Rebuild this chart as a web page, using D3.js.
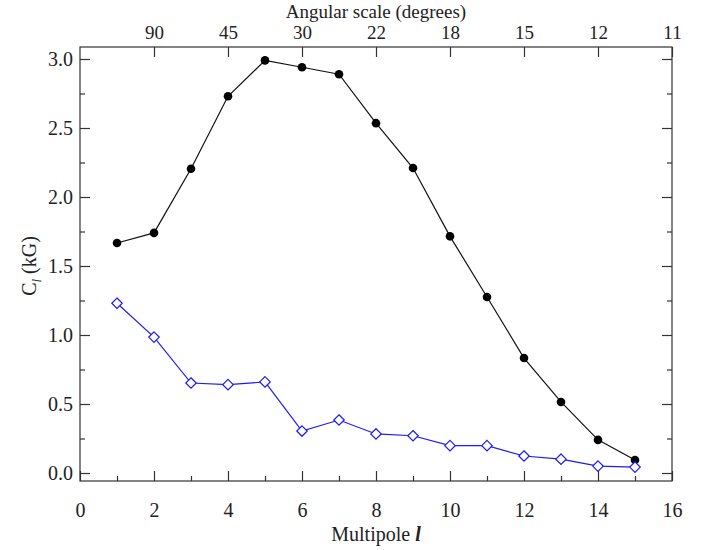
<!DOCTYPE html>
<html><head><meta charset="utf-8">
<script src="https://cdn.jsdelivr.net/npm/d3@7"></script>
<style>body{margin:0;background:#fff}svg{display:block}text{font-family:"Liberation Serif","DejaVu Serif",serif;fill:#222}</style>
</head><body>
<svg id="c" width="706" height="550"></svg>
<script>
const multipoles = [1,2,3,4,5,6,7,8,9,10,11,12,13,14,15];
const totalPower = [1.667,1.74,2.205,2.73,2.99,2.94,2.89,2.535,2.21,1.715,1.275,0.833,0.515,0.24,0.094];
const residualPower = [1.23,0.985,0.652,0.64,0.66,0.304,0.384,0.283,0.27,0.198,0.198,0.123,0.1,0.05,0.043];
const bottomTicks = [0,2,4,6,8,10,12,14,16];
const topTickPos = [2,4,6,8,10,12,14,16];
const topTickLabels = ["90","45","30","22","18","15","12","11"];
const yTicks = [0,0.5,1.0,1.5,2.0,2.5,3.0];

const svg = d3.select("#c");
const L=80,R=672,T=47,B=481;
const FS="20px";
const x = d3.scaleLinear().domain([0,16]).range([L,R]);
const y = d3.scaleLinear().domain([0,3]).range([473,59]);

svg.append("rect").attr("x",L).attr("y",T).attr("width",R-L).attr("height",B-T)
  .attr("fill","none").attr("stroke","#333").attr("stroke-width",1.2);

const fmt = d3.format(".1f");
svg.append("g").attr("transform",`translate(0,${B})`)
  .call(d3.axisBottom(x).tickValues(bottomTicks).tickSize(-10).tickPadding(22).tickFormat(d3.format("d")));
svg.append("g").attr("transform",`translate(0,${B})`)
  .call(d3.axisBottom(x).tickValues(d3.range(1,16,2)).tickSize(-5).tickFormat(""));
const topAxis = svg.append("g").attr("class","topax").attr("transform",`translate(0,${T})`)
  .call(d3.axisTop(x).tickValues(topTickPos).tickSize(-10).tickPadding(8).tickFormat((d,i)=>topTickLabels[i]));
svg.append("g").attr("transform",`translate(${L},0)`)
  .call(d3.axisLeft(y).tickValues(yTicks).tickSize(-10).tickPadding(7).tickFormat(fmt));
svg.append("g").attr("transform",`translate(${L},0)`)
  .call(d3.axisLeft(y).tickValues([0.25,0.75,1.25,1.75,2.25,2.75]).tickSize(-5).tickFormat(""));
svg.append("g").attr("transform",`translate(${R},0)`)
  .call(d3.axisRight(y).tickValues(yTicks).tickSize(-10).tickFormat(""));
svg.append("g").attr("transform",`translate(${R},0)`)
  .call(d3.axisRight(y).tickValues([0.25,0.75,1.25,1.75,2.25,2.75]).tickSize(-5).tickFormat(""));

svg.selectAll("g").selectAll(".domain").remove();
svg.selectAll(".tick line").attr("stroke","#333").attr("stroke-width",1.2);
svg.selectAll(".tick text").style("font-size",FS).attr("fill","#222").style("font-family",'"Liberation Serif",serif');
topAxis.selectAll(".tick text").style("font-size","19px");

svg.append("text").attr("x",376).attr("y",17.5).attr("text-anchor","middle").style("font-size","19px").text("Angular scale (degrees)");
const xt = svg.append("text").attr("x",(L+R)/2).attr("y",541).attr("text-anchor","middle").style("font-size",FS);
xt.append("tspan").text("Multipole ");
xt.append("tspan").style("font-style","italic").style("font-weight","bold").text("l");
const yt = svg.append("text").attr("transform","translate(36,266) rotate(-90)").attr("text-anchor","middle").style("font-size",FS);
yt.append("tspan").text("C");
yt.append("tspan").attr("dy",5).style("font-size","13px").style("font-style","italic").text("l");
yt.append("tspan").attr("dy",-5).text(" (kG)");

const line = d3.line().x((d,i)=>x(multipoles[i])).y(d=>y(d));
svg.append("path").datum(totalPower).attr("d",line).attr("fill","none").attr("stroke","#111").attr("stroke-width",1.2);
svg.append("path").datum(residualPower).attr("d",line).attr("fill","none").attr("stroke","#1a1aff").attr("stroke-width",1.2);

svg.selectAll(".dot").data(totalPower).enter().append("circle")
  .attr("cx",(d,i)=>x(multipoles[i])).attr("cy",d=>y(d)).attr("r",4.3).attr("fill","#000");
const dia = d3.symbol().type(d3.symbolDiamond2).size(70);
svg.selectAll(".dia").data(residualPower).enter().append("path")
  .attr("d",dia).attr("transform",(d,i)=>`translate(${x(multipoles[i])},${y(d)})`)
  .attr("fill","#fff").attr("stroke","#1a1aff").attr("stroke-width",1.2);
</script>
</body></html>
